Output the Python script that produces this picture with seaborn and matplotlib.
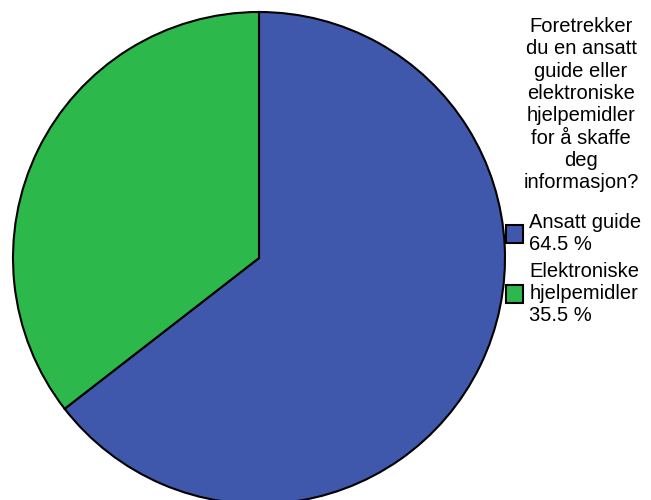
import matplotlib
matplotlib.use("Agg")
import matplotlib.pyplot as plt
import seaborn as sns
from matplotlib.patches import Patch

sns.set_style("white")
plt.rcParams["font.family"] = ["Liberation Sans", "DejaVu Sans"]
plt.rcParams["text.color"] = "black"

# Data
categories = ["Ansatt guide", "Elektroniske\nhjelpemidler"]
percentages = [64.5, 35.5]
colors = ["#3F58AC", "#2DB84B"]
legend_title = "Foretrekker\ndu en ansatt\nguide eller\nelektroniske\nhjelpemidler\nfor å skaffe\ndeg\ninformasjon?"

fig = plt.figure(figsize=(6.51, 5.0), dpi=100)
ax = fig.add_axes([13 / 651, (500 - 258 - 246) / 500, 492 / 651, 492 / 500])

ax.pie(percentages, colors=colors, startangle=90, counterclock=False,
       wedgeprops={"edgecolor": "black", "linewidth": 1.5})
ax.set_xlim(-1, 1)
ax.set_ylim(-1, 1)
ax.set_aspect("equal")
ax.axis("off")

# legend title drawn as its own text block
fig.text(581 / 651, 1 - 17 / 500, legend_title, ha="center", va="top",
         multialignment="center", fontsize=14.5, color="black",
         linespacing=1.22)

handles = [Patch(facecolor=c, edgecolor="black", linewidth=1.5) for c in colors]
labels = [f"{cat}\n{p:.1f} %" for cat, p in zip(categories, percentages)]
leg = fig.legend(handles, labels, loc="upper left",
                 bbox_to_anchor=(506 / 651, 1 - 213 / 500), frameon=False,
                 fontsize=14.5, handlelength=0.85,
                 handleheight=0.95, handletextpad=0.3, labelspacing=0.4,
                 borderpad=0.0, borderaxespad=0)
for t in leg.get_texts():
    t.set_color("black")

fig.savefig("out.png", dpi=100)
